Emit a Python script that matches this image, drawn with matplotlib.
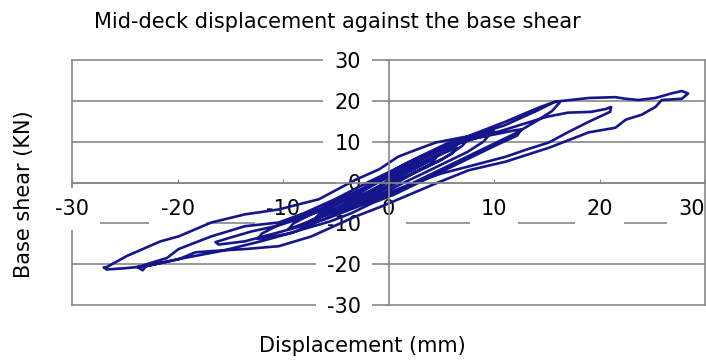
import numpy as np
import matplotlib.pyplot as plt

plt.rcParams['axes.unicode_minus'] = False

# hysteresis record (mm, kN)
disp_1 = [0, 1.5, 3, 4.5, 4, 2.5, 0.5, -1.5, -3, -4.5, -4, -2.5, -0.5, 1.5, 3.5, 5.5,
          6.5, 6, 4.5, 2.5, 0.5, -1.5, -3.5, -5.5, -7, -6.5, -5, -3, -1, 1, 3, 5]
shear_1 = [0, 2, 4, 6, 4.5, 2.5, 0, -2.5, -4.5, -6.5, -5, -3, -0.5, 2.5, 5, 7.5,
           8.5, 7, 5, 2.5, -0.5, -3, -5.5, -7.5, -9, -7.5, -5.5, -3, 0, 2.5, 5.5, 8]

disp_1b = [6, 7.5, 7, 5, 3, 1, -1, -3, -5, -6.5, -8, -7.5, -6, -4, -2, 0, 2, 4, 6]
shear_1b = [9, 10.5, 9, 5.5, 3, 0.5, -2, -4.5, -6.5, -8.5, -10.5, -9.5, -7.5, -5, -2.5,
            0.5, 3.5, 6, 8.5]

disp_2 = [7, 8.5, 9.5, 9, 7.5, 5.5, 3.5, 1.5, -0.5, -2.5, -4.5, -6.5, -8.5, -9.5, -9,
          -7.5, -5.5, -3.5, -1.5, 0.5, 2.5, 4.5, 6.5, 8.5, 10.5]
shear_2 = [10, 11, 11.5, 10, 7.5, 5, 2.5, 0, -2.5, -4.5, -6.5, -8.5, -10.5, -11.5, -10,
           -8, -5.5, -3, -0.5, 2.5, 5, 7.5, 9.5, 11, 12]

disp_3 = [12, 12.6, 12.2, 10.5, 8.5, 6.5, 4.5, 2.5, 0.5, -1.5, -3.5, -5.5, -7.5, -9.5,
          -11.5, -12.4, -12, -10.5, -8.5, -6.5, -4.5, -2.5, -0.5, 1.5, 3.5, 5.5, 8, 11, 14]
shear_3 = [12.8, 13, 11.5, 9.5, 7, 4.5, 2, -0.5, -3, -5, -7.5, -9.5, -11, -12.5,
           -13.5, -13.8, -12.5, -10.5, -8.5, -6.5, -4, -1.5, 1.5, 4.5, 7, 9.5, 11.5, 14, 17.5]

disp_4 = [15.8, 16.2, 15.5, 14, 12, 10, 8, 6, 4, 2, 0, -2, -4, -6, -8, -10.4, -13.6,
          -16.1, -16.4, -15, -13, -10.4, -8, -6, -4, -2, 0, 2, 4, 6, 8, 10.5, 13, 15,
          17, 19.2, 20.6, 21.1]
shear_4 = [19.8, 19.5, 17.5, 15, 12, 9.5, 7, 4.5, 2, -0.5, -3, -5, -7, -9, -10.5, -12.2,
           -14.4, -15.2, -14.6, -13.5, -12, -10.5, -8.5, -6.5, -4, -1, 2, 5, 7.5, 9.5,
           11, 12.5, 14.5, 16.1, 17.1, 17.3, 18, 18.5]

disp_5 = [21, 19, 17, 15.2, 13, 11.1, 8, 5, 2, 0, -3, -6, -9, -12.1, -15.9, -20, -23,
          -23.3, -23.8, -21, -19.9, -16.8, -13.6, -10.4, -8, -5, -2, 0, 2, 5, 7.9, 11.1,
          14.2, 15.8, 19, 21.5, 22.5, 23.7, 25.3, 26.8, 27.8, 28.4]
shear_5 = [17.3, 14.9, 12.3, 9.8, 8, 6.3, 4.2, 2.2, -0.5, -2.5, -5.5, -8.8, -12.2, -14.4,
           -16.8, -18.8, -20.5, -21.5, -20.7, -18.5, -16.3, -13.2, -10.7, -9.8, -7.5, -4,
           0, 2.5, 5, 8.5, 11.7, 14.9, 18.3, 19.8, 20.7, 20.9, 20.5, 20.2, 20.7, 21.8,
           22.4, 21.8]

disp_6 = [27.8, 25.9, 25.3, 24, 22.5, 21.5, 19, 15.2, 11.1, 7.6, 4.7, 1.6, -0.7, -3.1,
          -5, -7.3, -10.4, -13.6, -16.8, -18.3, -19.9, -23, -25, -26.7, -27]
shear_6 = [20.5, 20.2, 18.5, 16.6, 15.4, 13.4, 12.3, 8.5, 5.1, 3, 0, -3.4, -5.9, -8.3,
           -10.5, -13.2, -15.6, -16.3, -16.8, -17.1, -18.8, -20.5, -21, -21.3, -20.8]

disp_7 = [-26.7, -24.8, -21.6, -19.9, -16.8, -13.6, -10.4, -6.6, -3.1, -0.9, 0.9, 2.6,
          4.5, 6.9, 10]
shear_7 = [-20.7, -18, -14.4, -13.2, -9.8, -7.8, -6.6, -4.1, 0.7, 3.2, 6.3, 8, 9.8, 11,
           12.5]

ticks = [-30, -20, -10, 0, 10, 20, 30]

disp = np.concatenate([disp_1, disp_1b, disp_2, disp_3, disp_4, disp_5, disp_6, disp_7])
shear = np.concatenate([shear_1, shear_1b, shear_2, shear_3, shear_4, shear_5, shear_6,
                        shear_7])

grey = '#888888'
fs = 15

fig = plt.figure(figsize=(7.06, 3.6), dpi=100)
ax = fig.add_axes([72 / 706, 55 / 360, 633 / 706, 245 / 360])

ax.plot(disp, shear, color='#15158c', lw=1.9, solid_joinstyle='round')

ax.set_xlim(-30, 30)
ax.set_ylim(-30, 30)
ax.set_xticks(ticks)
ax.set_yticks(ticks)

# excel style: axes cross at the origin, frame made of gridlines + side lines
ax.spines['left'].set_position(('data', 0))
ax.spines['bottom'].set_position(('data', 0))
ax.spines['top'].set_visible(False)
for s in ['left', 'bottom', 'right']:
    ax.spines[s].set_color(grey)
    ax.spines[s].set_linewidth(1.2)
ax.axvline(-30, color=grey, lw=1.2, clip_on=False, zorder=1)

ax.yaxis.grid(True, color=grey, lw=1.2)
for gl in ax.yaxis.get_gridlines():
    gl.set_clip_on(False)

ax.tick_params(axis='y', direction='out', length=3, pad=17, labelsize=fs, color=grey)
ax.tick_params(axis='x', direction='in', length=3, pad=12, labelsize=fs, color=grey)

# x labels sit on top of the gridlines (they hide bits of the -10 line)
ax.xaxis.set_zorder(1.6)
for lab in ax.get_xticklabels() + ax.get_yticklabels():
    lab.set_bbox(dict(facecolor='white', edgecolor='none', pad=8))
ax.get_xticklabels()[-1].set_horizontalalignment('right')

fig.text(337 / 706, 1 - 28 / 360, 'Mid-deck displacement against the base shear',
         ha='center', va='baseline', fontsize=fs)
fig.text(24 / 706, 1 - 194 / 360, 'Base shear (KN)', rotation=90,
         ha='center', va='center', fontsize=fs)
fig.text(362 / 706, 1 - 346 / 360, 'Displacement (mm)',
         ha='center', va='center', fontsize=fs)

fig.savefig('out.png', dpi=100)
